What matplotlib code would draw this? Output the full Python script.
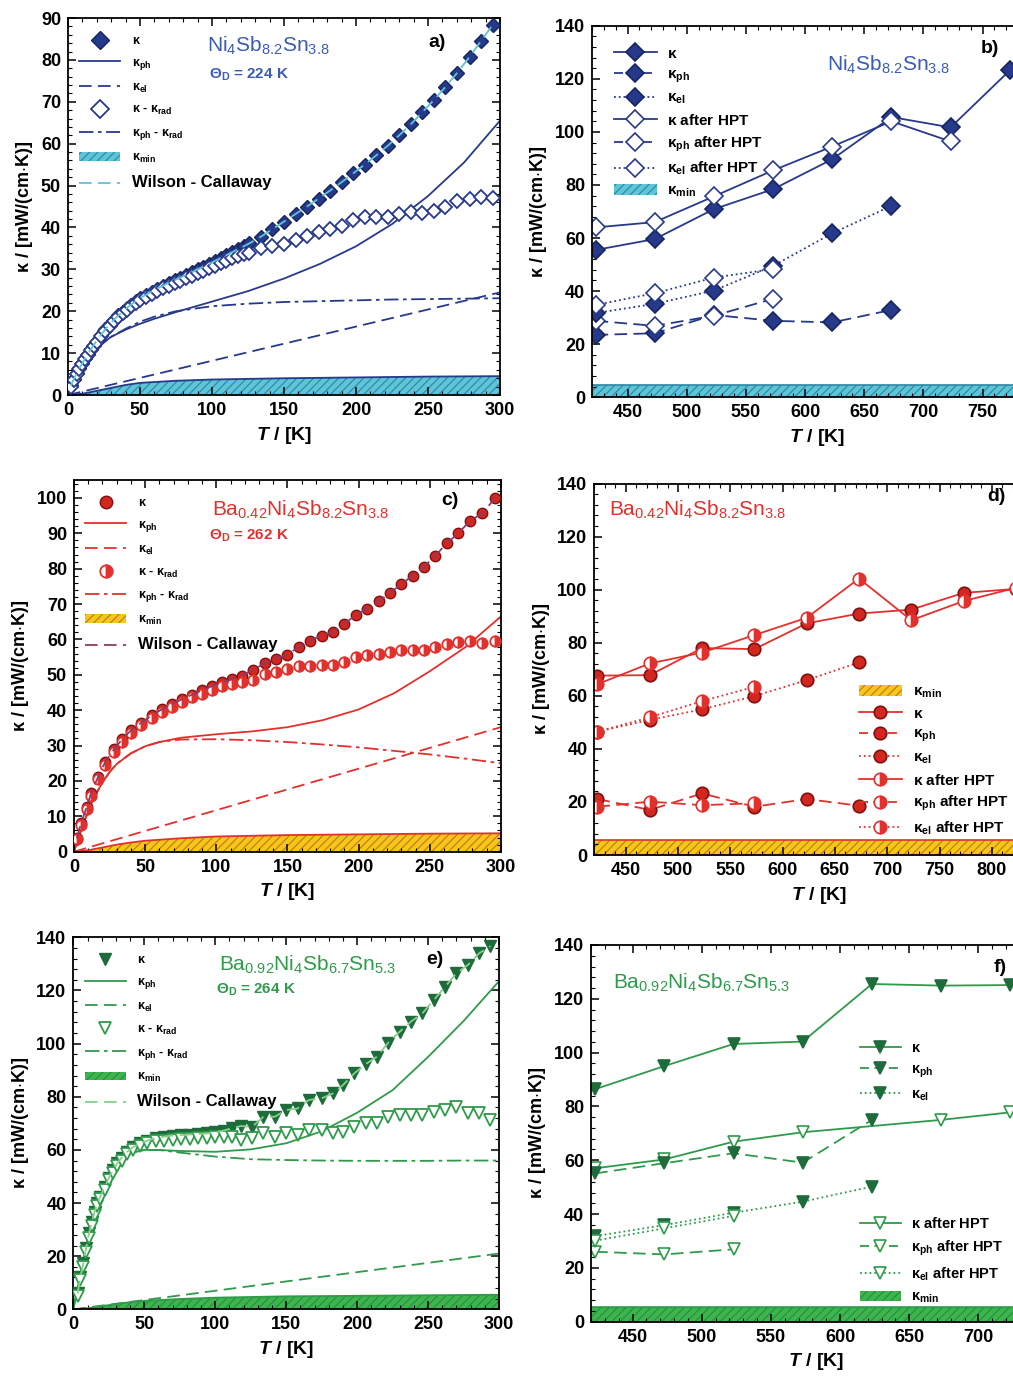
import matplotlib.pyplot as plt
from matplotlib.lines import Line2D
from matplotlib.patches import Patch
from matplotlib.ticker import AutoMinorLocator, MultipleLocator

plt.rcParams.update({
    "font.family": "Liberation Sans",
    "font.weight": "bold",
    "mathtext.fontset": "custom",
    "mathtext.rm": "Liberation Sans:bold",
    "mathtext.it": "Liberation Sans:italic:bold",
    "mathtext.bf": "Liberation Sans:bold",
    "hatch.linewidth": 0.8,
    "axes.linewidth": 1.3,
})

# ---------------- data: low temperature (a, c, e) ----------------
T_EL = [0, 300]
T_MIN = [0, 10, 20, 30, 40, 50, 75, 100, 150, 200, 250, 300]
T_FIT = [0, 5, 10, 15, 20, 25, 30, 40, 50, 60, 75, 100, 125, 150, 175, 200, 225, 250, 275, 300]

# a) Ni4Sb8.2Sn3.8
TA = [2, 4, 6, 8, 10, 12, 14, 16, 18, 20, 23, 26, 29, 32, 35, 38, 41, 44, 47, 50,
      54, 58, 62, 66, 70, 74, 78, 82, 86, 90, 94, 98, 102, 106, 110, 114, 118, 122, 126, 134,
      142, 150, 158, 166, 174, 182, 190, 198, 206, 214, 222, 230, 238, 246, 254, 262, 270, 279, 287, 295]
KAPPA_A = [2.3, 3.8, 5.2, 6.5, 7.6, 8.8, 9.9, 11.0, 12.0, 13.0, 14.4, 15.7, 16.9, 18.0, 19.0, 19.9, 20.8, 21.6, 22.4, 23.1,
           23.9, 24.7, 25.4, 26.1, 26.8, 27.4, 28.0, 28.7, 29.3, 30.0, 30.6, 31.3, 32.0, 32.7, 33.4, 34.1, 34.8, 35.5, 36.2, 37.8,
           39.6, 41.4, 43.2, 45.0, 46.9, 48.8, 50.8, 52.9, 55.0, 57.2, 59.5, 62.0, 64.6, 67.5, 70.4, 73.5, 76.8, 80.8, 84.6, 88.4]
KRAD_A = [2.0, 3.5, 4.9, 6.2, 7.3, 8.5, 9.6, 10.7, 11.7, 12.7, 14.0, 15.3, 16.5, 17.6, 18.6, 19.5, 20.4, 21.2, 22.0, 22.6,
          23.4, 24.1, 24.8, 25.5, 26.1, 26.7, 27.3, 27.9, 28.5, 29.1, 29.7, 30.3, 30.9, 31.5, 32.1, 32.7, 33.2, 33.6, 33.9, 35.0,
          35.5, 36.0, 37.0, 38.0, 39.0, 39.6, 40.4, 41.8, 42.4, 42.6, 42.6, 43.2, 43.6, 43.4, 44.0, 45.0, 46.2, 46.8, 47.3, 47.0]
KPH_A = [0, 3.5, 6.5, 9.0, 11.0, 12.6, 13.9, 15.6, 17.0, 18.2, 19.8, 22.3, 24.8, 27.8, 31.3, 35.5, 40.8, 47.5, 55.5, 65.5]
KPHRAD_A = [0, 3.5, 6.5, 9.0, 11.0, 12.6, 13.9, 15.8, 17.5, 18.7, 20.0, 21.2, 21.8, 22.2, 22.4, 22.6, 22.8, 22.9, 23.0, 23.1]
KEL_A = [0, 24.5]
KMIN_A = [0, 0.3, 1.0, 1.7, 2.4, 2.9, 3.4, 3.7, 4.0, 4.2, 4.4, 4.5]

# c) Ba0.42Ni4Sb8.2Sn3.8
TC = [2, 5, 9, 12, 17, 22, 28, 34, 40, 47, 55, 62, 69, 76, 83, 90, 97, 104, 111, 118, 126,
      134, 142, 150, 158, 166, 174, 182, 190, 198, 206, 214, 222, 230, 238, 246, 254, 262, 270, 278, 287, 296]
KAPPA_C = [3.8, 8.0, 12.7, 16.5, 21.2, 25.4, 28.9, 31.8, 34.3, 36.4, 38.6, 40.3, 41.8, 43.1, 44.4, 45.6, 46.8, 47.9, 48.8, 49.8, 51.5,
           53.2, 54.6, 55.7, 57.9, 59.7, 61.1, 62.1, 64.3, 67.0, 68.7, 70.8, 73.1, 75.7, 78.0, 80.6, 83.7, 87.2, 90.0, 93.4, 95.7, 100.0]
KRAD_C = [3.5, 7.5, 12.0, 15.8, 20.5, 24.6, 28.2, 31.0, 33.6, 35.8, 37.8, 39.5, 41.0, 42.3, 43.6, 44.7, 45.8, 46.8, 47.5, 48.0, 48.4,
          50.3, 50.8, 51.7, 52.4, 52.4, 52.7, 52.7, 53.6, 55.0, 55.5, 56.0, 56.4, 56.9, 56.9, 56.9, 57.9, 58.6, 59.3, 59.7, 59.0, 59.7]
KPH_C = [0, 6.0, 11.5, 16.0, 19.5, 22.5, 24.8, 27.8, 29.8, 31.0, 32.2, 33.2, 34.0, 35.2, 37.2, 40.2, 44.8, 51.0, 57.8, 66.5]
KPHRAD_C = [0, 6.0, 11.5, 16.0, 19.5, 22.5, 24.8, 27.8, 29.8, 31.0, 31.7, 31.8, 31.5, 31.0, 30.3, 29.5, 28.5, 27.5, 26.3, 25.0]
KEL_C = [0, 35.2]
KMIN_C = [0, 0.4, 1.2, 2.0, 2.6, 3.1, 3.8, 4.3, 4.7, 4.9, 5.1, 5.2]

# e) Ba0.92Ni4Sb6.7Sn5.3
TE = [3, 5, 7, 9, 11, 13, 15, 17, 19, 22, 25, 28, 31, 34, 38, 42, 47, 52, 58, 64, 70, 76, 82, 88, 94, 100,
      106, 112, 118, 126, 134, 142, 150, 158, 166, 175, 183, 190, 198, 206, 214, 222, 230, 238, 246, 254, 262, 270, 278, 286, 294]
KAPPA_E = [6.0, 12.3, 17.3, 23.0, 28.6, 33.0, 36.8, 40.0, 42.4, 46.0, 49.5, 52.5, 55.0, 57.0, 59.3, 61.0, 62.5, 63.5, 64.4, 65.0,
           65.4, 65.6, 65.8, 66.0, 66.2, 66.6, 67.3, 68.2, 69.0, 68.7, 72.5, 72.5, 75.0, 75.6, 78.8, 79.4, 81.3, 84.4, 88.8, 92.3,
           95.1, 100.4, 104.5, 108.3, 111.4, 116.4, 121.4, 126.5, 129.6, 134.0, 136.7]
KRAD_E = [5.0, 11.0, 16.0, 21.5, 27.0, 31.5, 35.5, 39.0, 41.5, 45.0, 48.5, 51.5, 54.0, 56.0, 58.3, 60.0, 61.5, 62.5, 63.2, 63.5,
          63.8, 64.0, 64.2, 64.3, 64.5, 64.8, 65.0, 65.0, 63.7, 64.4, 66.2, 65.0, 66.2, 65.6, 67.5, 67.5, 66.2, 66.9, 68.7, 70.0,
          70.0, 72.5, 73.1, 73.1, 73.1, 74.4, 75.0, 76.0, 74.0, 73.8, 71.3]
T_FIT_E = [0, 3, 6, 10, 15, 20, 25, 30, 35, 40, 50, 60, 75, 100, 125, 150, 175, 200, 225, 250, 275, 300]
KPH_E = [0, 8, 16, 26, 36, 44, 50, 54, 57, 58.8, 60, 60, 59.6, 59.3, 60.2, 62.5, 67, 74, 82.5, 95, 108.5, 123.5]
KPHRAD_E = [0, 8, 16, 26, 36, 44, 50, 54, 57, 58.8, 60, 60, 59, 57.5, 56.5, 56.2, 56, 55.9, 55.9, 55.9, 56, 56]
KEL_E = [0, 21.0]
KMIN_E = [0, 0.4, 1.2, 2.0, 2.7, 3.2, 3.9, 4.4, 4.9, 5.1, 5.3, 5.5]

# ---------------- data: high temperature (b, d, f) ----------------
TH = [423, 473, 523, 573, 623, 673, 723, 773, 823]

# b)
K_B = [55.5, 59.6, 70.9, 78.4, 89.7, 105.6, 101.7, 123.2]
K_HPT_B = [64.0, 66.0, 75.7, 85.5, 94.5, 104.0, 96.4]
KPH_B = [23.5, 24.1, 31.0, 28.8, 28.2, 32.9]
KPH_HPT_B = [28.8, 26.9, 30.7, 37.1]
KEL_B = [31.7, 35.2, 40.2, 49.5, 61.8, 72.1]
KEL_HPT_B = [34.8, 39.2, 45.1, 48.3]
KMIN_B = 4.5

# d)
K_D = [67.6, 67.8, 78.0, 77.6, 87.3, 91.0, 92.5, 98.8, 100.3]
K_HPT_D = [64.4, 72.2, 76.3, 82.9, 89.4, 104.2, 88.5, 95.7, 100.7]
KPH_D = [21.1, 17.0, 23.2, 18.2, 21.1, 18.6]
KPH_HPT_D = [18.2, 20.1, 18.8, 19.5]
KEL_D = [46.5, 50.9, 54.9, 59.9, 65.9, 72.6]
KEL_HPT_D = [46.5, 51.9, 58.0, 63.4]
KMIN_D = 5.5

# f)
K_F = [86.4, 95.0, 103.2, 104.1, 125.5, 124.9, 125.1]
T_HPT_F = [423, 473, 523, 573, 673, 723]
K_HPT_F = [57.0, 60.3, 66.9, 70.4, 75.0, 77.8]
KPH_F = [55.1, 58.9, 62.6, 59.1, 75.0]
KPH_HPT_F = [26.0, 25.0, 26.9]
KEL_F = [31.8, 35.9, 40.5, 44.6, 50.2]
KEL_HPT_F = [30.1, 34.7, 39.3]
KMIN_F = 5.5

# ---------------- colours ----------------
NAVY = "#27398a"
NAVY_DARK = "#17255e"
BLUE_TXT = "#3b5cb5"
CYAN = "#5ec4d8"
CYAN_HATCH = "#2a86a2"
RED = "#e2312d"
RED_FILL = "#d3261f"
RED_DARK = "#7e1212"
YELLOW = "#f6c61a"
YELLOW_HATCH = "#c0761a"
WC_RED = "#8e3b66"
GREEN = "#2f9a4a"
GREEN_DARK = "#1e6b3b"
GREEN_FILL = "#3db54f"
GREEN_HATCH = "#2a8a3c"
WC_GREEN = "#86d08a"

DASH = (7, 3.5)
DASHDOT = (8, 2.5, 2, 2.5)

K = r"$\mathrm{\kappa}$"
KPH = r"$\mathrm{\kappa_{ph}}$"
KEL = r"$\mathrm{\kappa_{el}}$"
KMIN = r"$\mathrm{\kappa_{min}}$"
KRAD = r"$\mathrm{\kappa_{rad}}$"


def style_axes(ax, xlim, ylim, xticks, ymajor):
    ax.set_xlim(*xlim)
    ax.set_ylim(*ylim)
    ax.set_xticks(xticks)
    ax.yaxis.set_major_locator(MultipleLocator(ymajor))
    ax.xaxis.set_minor_locator(AutoMinorLocator(5))
    ax.yaxis.set_minor_locator(AutoMinorLocator(5))
    ax.tick_params(which="both", direction="in", top=True, right=True, labelsize=13)
    ax.tick_params(which="major", length=6, width=1.1, pad=5)
    ax.tick_params(which="minor", length=3, width=0.8)
    for lab in ax.get_xticklabels() + ax.get_yticklabels():
        lab.set_fontweight("bold")
    ax.set_xlabel(r"$T$ / [K]", fontsize=14, fontweight="bold")
    ax.set_ylabel(r"$\mathrm{\kappa}$ / [mW/(cm$\cdot$K)]", fontsize=13, fontweight="bold")


def open_style(c, half):
    # the "after HPT" / "- k_rad" markers: white, or half filled for circles
    if half:
        return dict(mfc=c, mfcalt="white", fillstyle="right", mec=c)
    return dict(mfc="white", mec=c)


def low_t_panel(ax, c, fit_t, kph, kphrad, kel, kmin, fill, hatch_c, t, kappa, krad,
                mk, ms, mfc, mec, wc_c, ymax, ymajor, half=False):
    ax.fill_between(T_MIN, 0, kmin, facecolor=fill, edgecolor=hatch_c, hatch="////", lw=0, zorder=1)
    ax.plot(T_MIN, kmin, color=c, lw=1.3, zorder=2)
    ax.plot(T_EL, kel, color=c, lw=1.3, dashes=DASH, zorder=2)
    ax.plot(fit_t, kph, color=c, lw=1.3, zorder=2)
    ax.plot(fit_t, kphrad, color=c, lw=1.3, dashes=DASHDOT, zorder=2)
    ax.plot(t, kappa, ls="none", marker=mk, ms=ms, mfc=mfc, mec=mec, mew=1.0, zorder=3)
    ax.plot(t, krad, ls="none", marker=mk, ms=ms, mew=1.3, zorder=4, **open_style(c, half))
    ax.plot(t, kappa, color=wc_c, lw=1.3, dashes=DASH, zorder=5)
    style_axes(ax, (0, 300), (0, ymax), range(0, 301, 50), ymajor)
    handles = [
        Line2D([], [], ls="none", marker=mk, ms=9, mfc=mfc, mec=mec),
        Line2D([], [], color=c, lw=1.3),
        Line2D([], [], color=c, lw=1.3, dashes=DASH),
        Line2D([], [], ls="none", marker=mk, ms=9, mew=1.3, **open_style(c, half)),
        Line2D([], [], color=c, lw=1.3, dashes=DASHDOT),
        Patch(facecolor=fill, edgecolor=hatch_c, hatch="////", lw=0),
        Line2D([], [], color=wc_c, lw=1.3, dashes=DASH),
    ]
    labels = [K, KPH, KEL, K + " - " + KRAD, KPH + " - " + KRAD, KMIN, "Wilson - Callaway"]
    leg = ax.legend(handles, labels, loc="upper left", bbox_to_anchor=(0.0, 0.985), frameon=False,
                    fontsize=9, handlelength=3.3, handletextpad=0.9, labelspacing=0.78,
                    borderaxespad=0.5)
    leg.get_texts()[-1].set_fontsize(12)


def high_t_panel(ax, c, mk, mfc, mec, ms, half=False):
    def line(x, y, ls, open_):
        kw = dict(color=c, lw=1.3, marker=mk, ms=ms, mew=1.2)
        kw.update(open_style(c, half) if open_ else dict(mfc=mfc, mec=mec))
        if ls == "-":
            ax.plot(x, y, **kw)
        elif ls == "--":
            ax.plot(x, y, dashes=DASH, **kw)
        else:
            ax.plot(x, y, ls=":", **kw)
    return line


def hpt_handles(c, mk, mfc, mec, half=False):
    hs = []
    for open_ in (False, True):
        for ls in ("-", "--", ":"):
            kw = dict(color=c, lw=1.3, marker=mk, ms=9, mew=1.2)
            kw.update(open_style(c, half) if open_ else dict(mfc=mfc, mec=mec))
            if ls == "--":
                hs.append(Line2D([], [], dashes=(5, 3), **kw))
            else:
                hs.append(Line2D([], [], ls=ls, **kw))
    return hs


HPT_LABELS = [K, KPH, KEL, K + " after HPT", KPH + " after HPT", KEL + " after HPT"]
LEG_KW = dict(frameon=False, fontsize=11, handlelength=2.8, handletextpad=0.7,
              labelspacing=0.42, borderaxespad=0.0)

fig = plt.figure(figsize=(10.13, 13.86), dpi=100)

# ---- a ----
ax = fig.add_axes([0.0671, 0.715, 0.4265, 0.272])
low_t_panel(ax, NAVY, T_FIT, KPH_A, KPHRAD_A, KEL_A, KMIN_A, CYAN, CYAN_HATCH, TA, KAPPA_A, KRAD_A,
            "D", 7, NAVY, NAVY_DARK, CYAN, 90, 10)
ax.text(0.463, 0.925, r"Ni$\mathregular{_4}$Sb$\mathregular{_{8.2}}$Sn$\mathregular{_{3.8}}$",
        transform=ax.transAxes, color=BLUE_TXT, fontsize=15, fontweight="normal", ha="center", va="center")
ax.text(0.42, 0.85, r"$\Theta_\mathrm{D}$ = 224 K", transform=ax.transAxes, color=BLUE_TXT,
        fontsize=11, ha="center", va="center")
ax.text(0.855, 0.935, "a)", transform=ax.transAxes, fontsize=14, ha="center", va="center")

# ---- b ----
ax = fig.add_axes([0.5844, 0.7134, 0.444, 0.268])
ax.axhspan(0, KMIN_B, facecolor=CYAN, edgecolor=CYAN_HATCH, hatch="////", lw=0, zorder=1)
ax.axhline(KMIN_B, color=CYAN_HATCH, lw=1.2, zorder=2)
line = high_t_panel(ax, NAVY, "D", NAVY, NAVY_DARK, 9)
line(TH[:8], K_B, "-", False)
line(TH[:7], K_HPT_B, "-", True)
line(TH[:6], KPH_B, "--", False)
line(TH[:4], KPH_HPT_B, "--", True)
line(TH[:6], KEL_B, ":", False)
line(TH[:4], KEL_HPT_B, ":", True)
style_axes(ax, (420, 800), (0, 140), range(450, 751, 50), 20)
hs = hpt_handles(NAVY, "D", NAVY, NAVY_DARK) + [Patch(facecolor=CYAN, edgecolor=CYAN_HATCH, hatch="////", lw=0)]
ax.legend(hs, HPT_LABELS + [KMIN], loc="upper left", bbox_to_anchor=(0.035, 0.96), **LEG_KW)
ax.text(0.658, 0.895, r"Ni$\mathregular{_4}$Sb$\mathregular{_{8.2}}$Sn$\mathregular{_{3.8}}$",
        transform=ax.transAxes, color=BLUE_TXT, fontsize=15, fontweight="normal", ha="center", va="center")
ax.text(0.885, 0.94, "b)", transform=ax.transAxes, fontsize=14, ha="center", va="center")

# ---- c ----
ax = fig.add_axes([0.073, 0.3855, 0.4215, 0.268])
low_t_panel(ax, RED, T_FIT, KPH_C, KPHRAD_C, KEL_C, KMIN_C, YELLOW, YELLOW_HATCH, TC, KAPPA_C, KRAD_C,
            "o", 7.5, RED_FILL, RED_DARK, WC_RED, 105, 10, half=True)
ax.text(0.53, 0.92, r"Ba$\mathregular{_{0.42}}$Ni$\mathregular{_4}$Sb$\mathregular{_{8.2}}$Sn$\mathregular{_{3.8}}$",
        transform=ax.transAxes, color=RED, fontsize=15, fontweight="normal", ha="center", va="center")
ax.text(0.41, 0.85, r"$\Theta_\mathrm{D}$ = 262 K", transform=ax.transAxes, color=RED,
        fontsize=11, ha="center", va="center")
ax.text(0.88, 0.945, "c)", transform=ax.transAxes, fontsize=14, ha="center", va="center")

# ---- d ----
ax = fig.add_axes([0.5867, 0.3831, 0.444, 0.268])
ax.axhspan(0, KMIN_D, facecolor=YELLOW, edgecolor=YELLOW_HATCH, hatch="////", lw=0, zorder=1)
ax.axhline(KMIN_D, color=RED, lw=1.2, zorder=2)
line = high_t_panel(ax, RED, "o", RED_FILL, RED_DARK, 9, half=True)
line(TH, K_D, "-", False)
line(TH, K_HPT_D, "-", True)
line(TH[:6], KPH_D, "--", False)
line(TH[:4], KPH_HPT_D, "--", True)
line(TH[:6], KEL_D, ":", False)
line(TH[:4], KEL_HPT_D, ":", True)
style_axes(ax, (420, 850), (0, 140), range(450, 801, 50), 20)
hs = [Patch(facecolor=YELLOW, edgecolor=YELLOW_HATCH, hatch="////", lw=0)] + hpt_handles(RED, "o", RED_FILL, RED_DARK, half=True)
ax.legend(hs, [KMIN] + HPT_LABELS, loc="upper left", bbox_to_anchor=(0.575, 0.475), **LEG_KW)
ax.text(0.23, 0.93, r"Ba$\mathregular{_{0.42}}$Ni$\mathregular{_4}$Sb$\mathregular{_{8.2}}$Sn$\mathregular{_{3.8}}$",
        transform=ax.transAxes, color=RED, fontsize=15, fontweight="normal", ha="center", va="center")
ax.text(0.895, 0.965, "d)", transform=ax.transAxes, fontsize=14, ha="center", va="center")

# ---- e ----
ax = fig.add_axes([0.0724, 0.0553, 0.4202, 0.2684])
low_t_panel(ax, GREEN, T_FIT_E, KPH_E, KPHRAD_E, KEL_E, KMIN_E, GREEN_FILL, GREEN_HATCH, TE, KAPPA_E, KRAD_E,
            "v", 8, GREEN_DARK, GREEN_DARK, WC_GREEN, 140, 20)
ax.text(0.55, 0.927, r"Ba$\mathregular{_{0.92}}$Ni$\mathregular{_4}$Sb$\mathregular{_{6.7}}$Sn$\mathregular{_{5.3}}$",
        transform=ax.transAxes, color=GREEN, fontsize=15, fontweight="normal", ha="center", va="center")
ax.text(0.43, 0.86, r"$\Theta_\mathrm{D}$ = 264 K", transform=ax.transAxes, color=GREEN,
        fontsize=11, ha="center", va="center")
ax.text(0.85, 0.94, "e)", transform=ax.transAxes, fontsize=14, ha="center", va="center")

# ---- f ----
ax = fig.add_axes([0.5834, 0.0464, 0.444, 0.2718])
ax.axhspan(0, KMIN_F, facecolor=GREEN_FILL, edgecolor=GREEN_HATCH, hatch="////", lw=0, zorder=1)
ax.axhline(KMIN_F, color=GREEN, lw=1.2, zorder=2)
line = high_t_panel(ax, GREEN, "v", GREEN_DARK, GREEN_DARK, 9)
line(TH[:7], K_F, "-", False)
line(T_HPT_F, K_HPT_F, "-", True)
line(TH[:5], KPH_F, "--", False)
line(TH[:3], KPH_HPT_F, "--", True)
line(TH[:5], KEL_F, ":", False)
line(TH[:3], KEL_HPT_F, ":", True)
style_axes(ax, (420, 745), (0, 140), range(450, 701, 50), 20)
hs = hpt_handles(GREEN, "v", GREEN_DARK, GREEN_DARK)
leg_f = dict(LEG_KW, fontsize=10.5, labelspacing=0.5)
leg1 = ax.legend(hs[:3], HPT_LABELS[:3], loc="upper left", bbox_to_anchor=(0.585, 0.76), **leg_f)
ax.add_artist(leg1)
ax.legend(hs[3:] + [Patch(facecolor=GREEN_FILL, edgecolor=GREEN_HATCH, hatch="////", lw=0)],
          HPT_LABELS[3:] + [KMIN], loc="upper left", bbox_to_anchor=(0.585, 0.295), **leg_f)
ax.text(0.247, 0.9, r"Ba$\mathregular{_{0.92}}$Ni$\mathregular{_4}$Sb$\mathregular{_{6.7}}$Sn$\mathregular{_{5.3}}$",
        transform=ax.transAxes, color=GREEN, fontsize=15, fontweight="normal", ha="center", va="center")
ax.text(0.91, 0.94, "f)", transform=ax.transAxes, fontsize=14, ha="center", va="center")

fig.savefig("out.png", dpi=100)
